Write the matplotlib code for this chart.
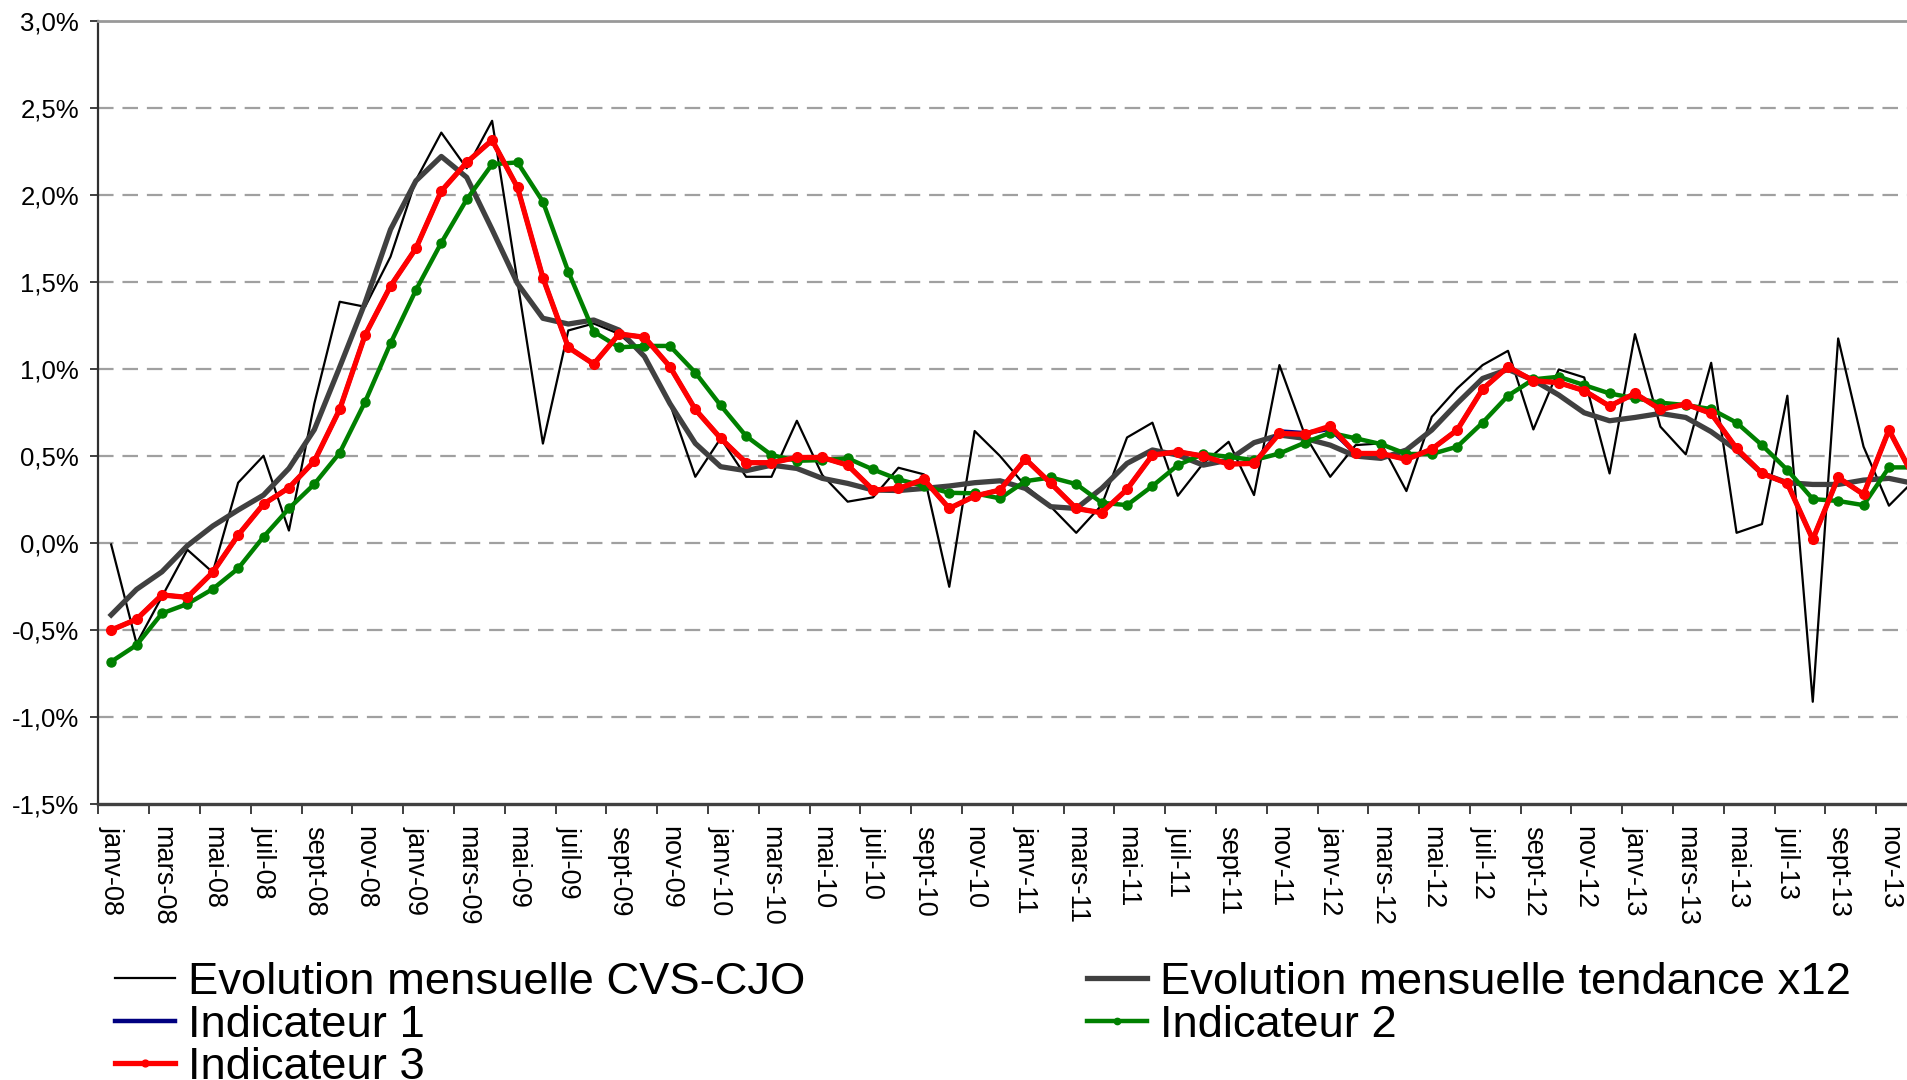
import matplotlib
matplotlib.use("Agg")
import matplotlib.pyplot as plt
from matplotlib.ticker import FixedLocator

plt.rcParams['font.family'] = ['Liberation Sans', 'DejaVu Sans']

# mois (janv-08 -> déc-13)
noms_mois = ["janv", "févr", "mars", "avr", "mai", "juin",
             "juil", "août", "sept", "oct", "nov", "déc"]
mois = [f"{m}-{a:02d}" for a in range(8, 14) for m in noms_mois]

# valeurs en %
cvs_cjo = [-0.01, -0.58, -0.31, -0.04, -0.17, 0.345, 0.50, 0.07, 0.80, 1.385, 1.356, 1.644,
           2.084, 2.357, 2.152, 2.425, 1.50, 0.57, 1.22, 1.26, 1.20, 1.07, 0.80, 0.379,
           0.60, 0.379, 0.379, 0.701, 0.389, 0.236, 0.261, 0.431, 0.393, -0.253, 0.642, 0.498,
           0.326, 0.207, 0.057, 0.216, 0.605, 0.69, 0.27, 0.456, 0.58, 0.274, 1.021, 0.62,
           0.379, 0.561, 0.571, 0.297, 0.724, 0.887, 1.021, 1.103, 0.651, 0.996, 0.95, 0.398,
           1.199, 0.667, 0.508, 1.034, 0.057, 0.107, 0.845, -0.914, 1.174, 0.552, 0.213, 0.36]

tendance = [-0.415, -0.268, -0.167, -0.017, 0.096, 0.188, 0.274, 0.427, 0.65, 1.01, 1.38, 1.80,
            2.08, 2.22, 2.10, 1.80, 1.49, 1.29, 1.257, 1.28, 1.222, 1.07, 0.80, 0.571,
            0.437, 0.414, 0.446, 0.427, 0.37, 0.341, 0.303, 0.30, 0.312, 0.326, 0.345, 0.356,
            0.312, 0.207, 0.197, 0.312, 0.456, 0.533, 0.504, 0.446, 0.475, 0.575, 0.619, 0.60,
            0.561, 0.498, 0.485, 0.533, 0.648, 0.801, 0.944, 0.996, 0.935, 0.849, 0.747, 0.701,
            0.72, 0.743, 0.72, 0.638, 0.533, 0.398, 0.345, 0.335, 0.335, 0.36, 0.37, 0.34]

indic3 = [-0.502, -0.44, -0.30, -0.314, -0.17, 0.044, 0.222, 0.316, 0.469, 0.767, 1.194, 1.475,
          1.692, 2.021, 2.186, 2.314, 2.042, 1.523, 1.123, 1.027, 1.20, 1.181, 1.012, 0.766,
          0.60, 0.46, 0.46, 0.49, 0.49, 0.446, 0.303, 0.312, 0.364, 0.197, 0.268, 0.303,
          0.481, 0.341, 0.197, 0.172, 0.307, 0.504, 0.523, 0.498, 0.452, 0.456, 0.628, 0.623,
          0.670, 0.513, 0.513, 0.479, 0.538, 0.648, 0.883, 1.011, 0.931, 0.920, 0.874, 0.785,
          0.858, 0.766, 0.797, 0.743, 0.542, 0.398, 0.341, 0.019, 0.375, 0.278, 0.648, 0.37]

indic1 = [-0.502, -0.44, -0.30, -0.314, -0.17, 0.044, 0.222, 0.316, 0.469, 0.767, 1.194, 1.475,
          1.692, 2.021, 2.186, 2.314, 2.042, 1.523, 1.123, 1.027, 1.20, 1.181, 1.012, 0.766,
          0.60, 0.46, 0.46, 0.49, 0.49, 0.446, 0.303, 0.312, 0.364, 0.197, 0.268, 0.303,
          0.481, 0.341, 0.197, 0.172, 0.307, 0.504, 0.523, 0.498, 0.452, 0.456, 0.64, 0.63,
          0.655, 0.513, 0.513, 0.479, 0.538, 0.648, 0.883, 1.011, 0.931, 0.920, 0.874, 0.785,
          0.858, 0.766, 0.797, 0.743, 0.542, 0.398, 0.341, 0.019, 0.375, 0.278, 0.648, 0.37]

indic2 = [-0.684, -0.588, -0.406, -0.352, -0.266, -0.148, 0.034, 0.197, 0.337, 0.517, 0.81, 1.146,
          1.452, 1.724, 1.973, 2.175, 2.186, 1.96, 1.558, 1.213, 1.123, 1.131, 1.131, 0.978,
          0.789, 0.613, 0.504, 0.471, 0.475, 0.485, 0.421, 0.364, 0.326, 0.287, 0.284, 0.255,
          0.354, 0.375, 0.337, 0.23, 0.216, 0.326, 0.446, 0.51, 0.494, 0.475, 0.513, 0.575,
          0.632, 0.60, 0.567, 0.51, 0.51, 0.552, 0.69, 0.845, 0.939, 0.954, 0.906, 0.858,
          0.83, 0.805, 0.791, 0.768, 0.69, 0.561, 0.418, 0.251, 0.24, 0.216, 0.433, 0.433]

x = list(range(len(mois)))

fig = plt.figure(figsize=(19.08, 10.8), dpi=100)
ax = fig.add_axes([0.0516, 0.2558, 0.9484, 0.725])

l_cvs, = ax.plot(x, cvs_cjo, color='black', lw=1.6, label="Evolution mensuelle CVS-CJO")
l_tend, = ax.plot(x, tendance, color='#404040', lw=3.8, label="Evolution mensuelle tendance x12")
l_i1, = ax.plot(x, indic1, color='#000080', lw=3.2, label="Indicateur 1")
l_i2, = ax.plot(x, indic2, color='#008000', lw=3.2, marker='o', ms=6.5,
                label="Indicateur 2")
l_i3, = ax.plot(x, indic3, color='#ff0000', lw=3.8, marker='o', ms=7,
                label="Indicateur 3")

ax.set_xlim(-0.5, 70.75)
ax.set_ylim(-1.5, 3.0)

# grille pointillée
for v in [-1.0, -0.5, 0.0, 0.5, 1.0, 1.5, 2.0, 2.5]:
    ax.axhline(v, color='#a0a0a0', lw=1.6, dashes=(7, 4), zorder=0)

yt = [-1.5, -1.0, -0.5, 0.0, 0.5, 1.0, 1.5, 2.0, 2.5, 3.0]
ax.set_yticks(yt)
ax.set_yticklabels([f"{v:.1f}%".replace('.', ',') for v in yt], fontsize=18.5)
ax.tick_params(axis='y', length=6, width=1.3, pad=8, color='#303030')

# étiquettes tous les 2 mois, graduations entre catégories
ax.set_xticks(x[::2])
ax.set_xticklabels(mois[::2], rotation=-90, fontsize=19.5, va='top', ha='center')
ax.tick_params(axis='x', which='major', length=0, pad=16)
ax.xaxis.set_minor_locator(FixedLocator([i - 0.5 for i in range(0, 72, 2)]))
ax.tick_params(axis='x', which='minor', length=7, width=1.3, color='#303030')

ax.spines['right'].set_visible(False)
ax.spines['top'].set_color('#999999')
ax.spines['top'].set_linewidth(2)
ax.spines['left'].set_color('#303030')
ax.spines['left'].set_linewidth(1.6)
ax.spines['bottom'].set_color('#404040')
ax.spines['bottom'].set_linewidth(2.4)

handles = [l_cvs, l_i1, l_i3, l_tend, l_i2]
fig.legend(handles, [h.get_label() for h in handles],
           ncol=2, loc='upper left', bbox_to_anchor=(0.0603, 0.109),
           frameon=False, fontsize=32.7, handlelength=1.32, handletextpad=0.29,
           labelspacing=0.03, columnspacing=6.2, markerscale=0.7,
           borderaxespad=0, borderpad=0)

fig.savefig("out.png", dpi=100)
